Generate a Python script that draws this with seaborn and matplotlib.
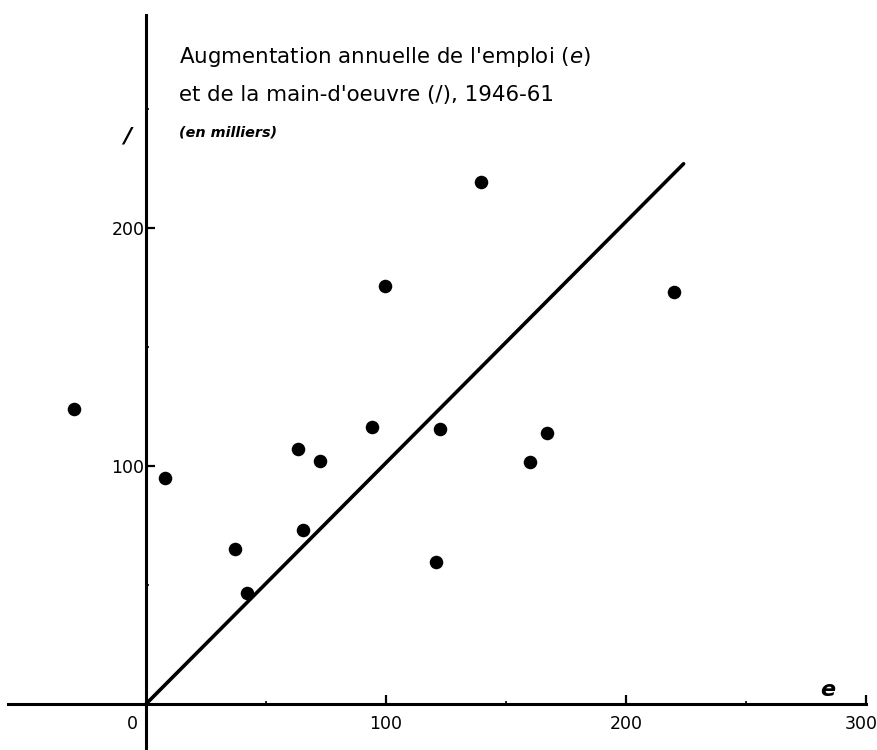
import matplotlib
matplotlib.use("Agg")
import matplotlib.pyplot as plt
import matplotlib.transforms as mtransforms
import seaborn as sns
import pandas as pd
from matplotlib.ticker import FixedLocator

# Data (thousands): annual increase of employment (e) and labour force (l), 1946-61
emploi = [-30, 8, 37, 42, 63.5, 65.5, 72.5, 94, 99.5, 121, 122.5, 139.5, 160, 167, 220]
main_oeuvre = [124, 95, 65, 46.5, 107, 73, 102, 116.5, 175.5, 59.5, 115.5, 219.5, 101.5, 114, 173]
line_e = [0, 224]
line_l = [0, 227]

x_ticks = [100, 200, 300]
y_ticks = [100, 200]

title_lines = ["Augmentation annuelle de l'emploi ($\\mathit{e}$)",
               "et de la main-d'oeuvre (/), 1946-61"]
subtitle = "(en milliers)"

sns.set_style("white")
plt.rcParams['font.family'] = ['DejaVu Sans']
plt.rcParams['mathtext.fontset'] = 'dejavusans'
plt.rcParams['text.color'] = 'black'
plt.rcParams['xtick.color'] = 'black'
plt.rcParams['ytick.color'] = 'black'

df = pd.DataFrame({"e": emploi, "l": main_oeuvre})
dfl = pd.DataFrame({"e": line_e, "l": line_l})

fig = plt.figure(figsize=(8.78, 7.5), dpi=100)
ax = fig.add_axes([0, 0, 1, 1])

sns.lineplot(data=dfl, x="e", y="l", ax=ax, color="black", linewidth=2.6)
sns.scatterplot(data=df, x="e", y="l", ax=ax, color="black", s=95, edgecolor="black", linewidth=0)

ax.set_xlim(-60.8, 305)
ax.set_ylim(-19.3, 295.8)

for side in ["top", "right"]:
    ax.spines[side].set_visible(False)
ax.spines["left"].set_position(("data", 0))
ax.spines["bottom"].set_position(("data", 0))
ax.spines["left"].set_bounds(-19.3, 289.5)
ax.spines["bottom"].set_bounds(-57.5, 300)
for side in ["left", "bottom"]:
    ax.spines[side].set_linewidth(2.2)
    ax.spines[side].set_color("black")

ax.set_xlabel("")
ax.set_ylabel("")
ax.xaxis.set_major_locator(FixedLocator(x_ticks))
ax.yaxis.set_major_locator(FixedLocator(y_ticks))
ax.xaxis.set_minor_locator(FixedLocator([50, 150, 250]))
ax.yaxis.set_minor_locator(FixedLocator([50, 150, 250]))
ax.set_xticklabels([str(v) for v in x_ticks])
ax.set_yticklabels([str(v) for v in y_ticks])
ax.tick_params(axis="both", which="major", direction="in", length=6.5, width=1.6,
               labelsize=12.5, colors="black")
ax.tick_params(axis="both", which="minor", direction="in", length=2.5, width=1.2, colors="black")
ax.tick_params(axis="x", which="major", pad=8)
ax.tick_params(axis="y", which="major", pad=1)
ax.tick_params(axis="both", which="both", bottom=True, left=True)

# shift the last x label slightly left so it stays inside the figure
fig.canvas.draw()
last = ax.get_xticklabels()[-1]
last.set_transform(last.get_transform() + mtransforms.ScaledTranslation(-5 / 100, 0, fig.dpi_scale_trans))

# zero label, offset left of the vertical axis
off = mtransforms.offset_copy(ax.transData, fig=fig, x=-14, y=-11, units="dots")
ax.text(0, 0, "0", transform=off, ha="center", va="top", fontsize=12.5)

# axis letters
ax.text(0.1445, 1 - 136 / 750, "/", transform=ax.transAxes, ha="center", va="center",
        fontsize=16, style="italic", fontweight="bold")
ax.text(828 / 878, 1 - 690 / 750, "e", transform=ax.transAxes, ha="center", va="center",
        fontsize=16, style="italic", fontweight="bold")

# title block
ax.text(179 / 878, 1 - 57 / 750, title_lines[0], transform=ax.transAxes, ha="left",
        va="center", fontsize=15.4)
ax.text(179 / 878, 1 - 95 / 750, title_lines[1], transform=ax.transAxes, ha="left",
        va="center", fontsize=15.4)
ax.text(179 / 878, 1 - 133 / 750, subtitle, transform=ax.transAxes, ha="left",
        va="center", fontsize=10.4, style="italic", fontweight="bold")

fig.savefig("out.png", dpi=100)
